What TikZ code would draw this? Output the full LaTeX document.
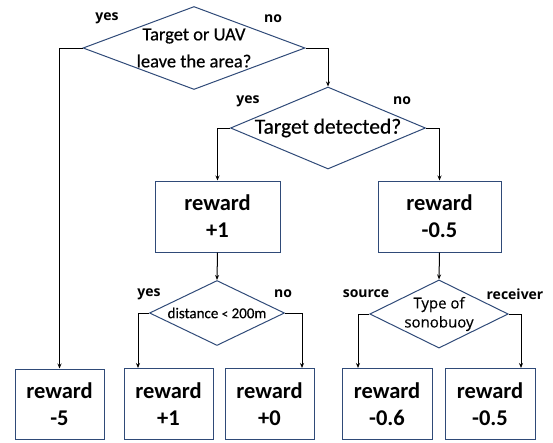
\documentclass[tikz,border=0pt]{standalone}
\usepackage{fontspec}
\setmainfont{Carlito}
\newfontfamily\lblfont{Open Sans}
\newfontface\diafont{Carlito}[FakeBold=0.5]
\newfontface\diafontb{Open Sans}[FakeBold=0.3]
\usetikzlibrary{shapes.geometric,arrows.meta}
\definecolor{edgeblue}{HTML}{2F4A78}
\begin{document}
\begin{tikzpicture}[x=1pt,y=-1pt,
  decision/.style={draw=edgeblue,line width=1pt,diamond,inner sep=0pt,align=center},
  rewardbox/.style={draw=edgeblue,line width=1pt,rectangle,inner sep=0pt,align=center,font=\fontsize{22.5}{27}\selectfont\bfseries},
  flow/.style={line width=1pt,-{Stealth[length=5pt,width=4pt]}},
  lbl/.style={font=\lblfont\fontsize{14}{16}\selectfont\bfseries,inner sep=0pt}]
\useasboundingbox (0,0) rectangle (553,442);
% decisions
\node[decision,minimum width=222pt,minimum height=83pt,aspect=2.67,font=\diafont\fontsize{18.5}{27}\selectfont] (d1) at (194,48) {Target or UAV\\leave the area?};
\node[decision,minimum width=195pt,minimum height=82pt,aspect=2.38,font=\diafont\fontsize{21.5}{25}\selectfont] (d2) at (328,128) {Target detected?};
\node[decision,minimum width=135pt,minimum height=65pt,aspect=2.08,font=\diafont\fontsize{15}{17}\selectfont] (d3) at (217,313) {distance {\fontsize{13}{17}\selectfont<} 200m};
\node[decision,minimum width=132pt,minimum height=65pt,aspect=2.03,font=\diafontb\fontsize{15}{19}\selectfont] (d4) at (439,314) {Type of\\sonobuoy};
% reward boxes
\node[rewardbox,minimum width=125pt,minimum height=71pt] (b1) at (217.5,216.5) {reward\\+1};
\node[rewardbox,minimum width=123pt,minimum height=71pt] (b2) at (439.5,216.5) {reward\\-0.5};
\node[rewardbox,minimum width=89pt,minimum height=70pt] (b5) at (59.5,404) {reward\\-5};
\node[rewardbox,minimum width=89pt,minimum height=71pt] (b3) at (168.5,404) {reward\\+1};
\node[rewardbox,minimum width=89pt,minimum height=71pt] (b4) at (269.5,404) {reward\\+0};
\node[rewardbox,minimum width=90pt,minimum height=71pt] (b6) at (387,404) {reward\\-0.6};
\node[rewardbox,minimum width=90pt,minimum height=71pt] (b7) at (490,404) {reward\\-0.5};
% connectors
\draw[flow] (d1.west) -| (b5.north);
\draw[flow] (d1.east) -| (d2.north);
\draw[flow] (d2.west) -| (b1.north);
\draw[flow] (d2.east) -| (b2.north);
\draw[flow] (b1.south) -- (d3.north);
\draw[flow] (b2.south) -- (d4.north);
\draw[flow] (d3.west) -| ([xshift=-30.5pt]b3.north);
\draw[flow] (d3.east) -| ([xshift=32.5pt]b4.north);
\draw[flow] (d4.west) -| ([xshift=-29pt]b6.north);
\draw[flow] (d4.east) -| ([xshift=31pt]b7.north);
% labels
\node[lbl] (l1) at (107,18) {yes};
\node[lbl] (l2) at (273,19) {no};
\node[lbl] (l3) at (248,101) {yes};
\node[lbl] (l4) at (402,101) {no};
\node[lbl] (l5) at (149,294) {yes};
\node[lbl] (l6) at (283,294) {no};
\node[lbl] (l7) at (366,294) {source};
\node[lbl] (l8) at (515,294) {receiver};
\end{tikzpicture}
\end{document}
